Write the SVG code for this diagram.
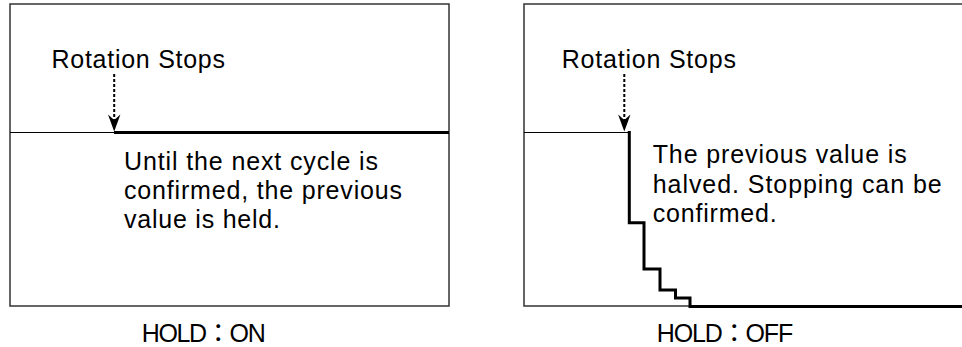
<svg xmlns="http://www.w3.org/2000/svg" width="962" height="347" viewBox="0 0 962 347">
<defs>
<style>
.frame{fill:none;stroke:#333;stroke-width:1.5}
.thin{fill:none;stroke:#000;stroke-width:1.2}
.thick{fill:none;stroke:#000;stroke-width:3;stroke-linejoin:miter}
.dash{fill:none;stroke:#000;stroke-width:2;stroke-dasharray:3 2}
.head{fill:#000}
text{font-family:"Liberation Sans",Arial,"Noto Sans CJK JP",sans-serif;font-size:25px;fill:#000}
</style>
</defs>
<g id="panel-on">
<rect class="frame" x="10" y="4" width="439" height="302"/>
<line class="thin" x1="10" y1="132.5" x2="115" y2="132.5"/>
<line class="thick" x1="114" y1="132.5" x2="449" y2="132.5"/>
<text x="51.5" y="68.3" textLength="173.5" lengthAdjust="spacing">Rotation Stops</text>
<text x="124" y="170" textLength="254" lengthAdjust="spacing">Until the next cycle is</text>
<text x="124" y="199" textLength="278" lengthAdjust="spacing">confirmed, the previous</text>
<text x="124" y="228" textLength="156" lengthAdjust="spacing">value is held.</text>
<text x="141.7" y="341.5" textLength="124" lengthAdjust="spacing">HOLD：ON</text>
</g>
<g id="panel-off">
<path class="frame" d="M970,4 H524 V306 H970"/>
<line class="thin" x1="524" y1="132.5" x2="629" y2="132.5"/>
<path class="thick" d="M629.3,131 V222.7 H644 V269 H660 V290 H675.5 V298 H690 V306.5 H962"/>
<text x="561.7" y="68.3" textLength="174.3" lengthAdjust="spacing">Rotation Stops</text>
<text x="652.7" y="162.7" textLength="254" lengthAdjust="spacing">The previous value is</text>
<text x="652.7" y="192.5" textLength="289" lengthAdjust="spacing">halved. Stopping can be</text>
<text x="652.7" y="221.7" textLength="124" lengthAdjust="spacing">confirmed.</text>
<text x="656.7" y="341.5" textLength="136.6" lengthAdjust="spacing">HOLD：OFF</text>
</g>
<g id="connectors">
<line class="dash" x1="114.2" y1="74" x2="114.2" y2="121"/>
<path class="head" d="M114.2,131.5 L108,114.5 L114.2,120 L120.4,114.5 Z"/>
<line class="dash" x1="624.3" y1="74" x2="624.3" y2="121"/>
<path class="head" d="M624.3,131.5 L618.1,114.5 L624.3,120 L630.5,114.5 Z"/>
</g>
</svg>
